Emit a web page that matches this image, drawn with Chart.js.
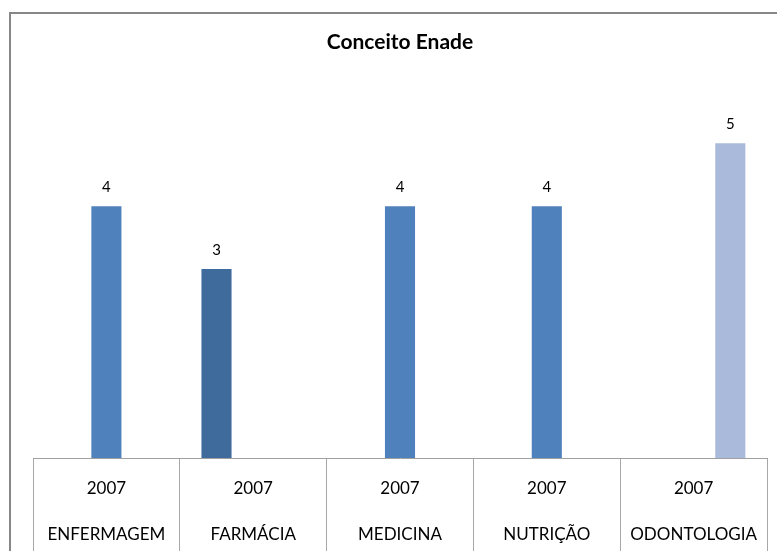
<!DOCTYPE html>
<html>
<head>
<meta charset="utf-8">
<script src="https://cdn.jsdelivr.net/npm/chart.js@4.4.0/dist/chart.umd.min.js"></script>
<style>
  html, body { margin: 0; padding: 0; background: #fff; width: 777px; height: 551px; overflow: hidden; }
  #frame { position: absolute; left: 9px; top: 12px; width: 800px; height: 600px; border: 2px solid #878787; box-sizing: border-box; }
  #wrap { position: absolute; left: 0; top: 0; width: 777px; height: 600px; }
</style>
</head>
<body>
<div id="frame"></div>
<div id="wrap"><canvas id="c" width="777" height="600"></canvas></div>
<script>
const years = ['2007', '2007', '2007', '2007', '2007'];
const courses = ['ENFERMAGEM', 'FARMÁCIA', 'MEDICINA', 'NUTRIÇÃO', 'ODONTOLOGIA'];
const seriesLeft = [null, 3, null, null, null];
const seriesMiddle = [4, null, 4, 4, null];
const seriesRight = [null, null, null, null, 5];
const chartTitle = 'Conceito Enade';

const labels = years.map((y, i) => [y, courses[i]]);

const valueLabels = {
  id: 'valueLabels',
  afterDatasetsDraw(chart) {
    const ctx = chart.ctx;
    ctx.save();
    ctx.font = '15px Lato';
    ctx.fillStyle = '#000';
    ctx.textAlign = 'center';
    ctx.textBaseline = 'middle';
    chart.data.datasets.forEach((ds, di) => {
      const meta = chart.getDatasetMeta(di);
      meta.data.forEach((el, i) => {
        const v = ds.data[i];
        if (v === null || v === undefined) return;
        ctx.fillText(String(v), el.x, el.y - 19);
      });
    });
    ctx.restore();
  }
};

new Chart(document.getElementById('c'), {
  type: 'bar',
  data: {
    labels: labels,
    datasets: [
      { data: seriesLeft, backgroundColor: '#3F6A9C' },
      { data: seriesMiddle, backgroundColor: '#4F81BD' },
      { data: seriesRight, backgroundColor: '#A9BADA' }
    ]
  },
  options: {
    responsive: false,
    animation: false,
    layout: { padding: { left: 33, right: 10, top: 0, bottom: 0 } },
    datasets: { bar: { categoryPercentage: 0.75, barPercentage: 0.82 } },
    plugins: {
      legend: { display: false },
      tooltip: { enabled: false },
      title: {
        display: true,
        text: chartTitle,
        fullSize: false,
        color: '#000',
        font: { family: 'Lato', size: 21, weight: 'bold', lineHeight: 1.2 },
        padding: { top: 30, bottom: 25 }
      }
    },
    scales: {
      y: { display: false, min: 0, max: 6 },
      x: {
        offset: true,
        grid: { offset: true, drawOnChartArea: false, drawTicks: true, tickLength: 100, color: '#A8A8A8', lineWidth: 1 },
        border: { display: true, color: '#A0A0A0', width: 1 },
        ticks: {
          color: '#000',
          padding: -92,
          maxRotation: 0,
          font: { family: 'Lato', size: 17, lineHeight: '46px' }
        },
        afterFit(s) { s.height = 142; }
      }
    }
  },
  plugins: [valueLabels]
});
</script>
</body>
</html>
